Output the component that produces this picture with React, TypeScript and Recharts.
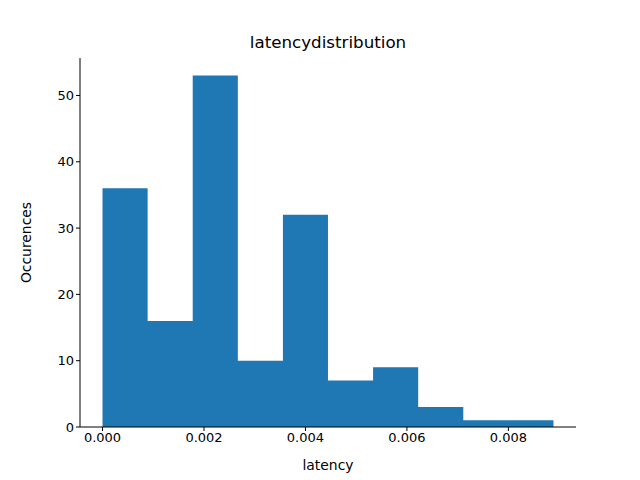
import React from "react";
import { ComposedChart, Area, XAxis, YAxis, Label } from "recharts";

const binEdges = [0, 0.000889, 0.001778, 0.002667, 0.003556, 0.004444, 0.005333, 0.006222, 0.007111, 0.008, 0.008889];
const counts = [36, 16, 53, 10, 32, 7, 9, 3, 1, 1];
const xTicks = [0, 0.002, 0.004, 0.006, 0.008];
const yTicks = [0, 10, 20, 30, 40, 50];

const data = binEdges.map((e, i) => ({ x: e, y: counts[Math.min(i, counts.length - 1)] }));

const font = "DejaVu Sans, sans-serif";
const tickStyle = { fontSize: 13, fill: "#000", fontFamily: font };

export default function App() {
  return (
    <div style={{ position: "absolute", left: 0, top: 0, width: 640, height: 480, background: "#fff" }}>
      <div style={{ position: "absolute", top: 32, left: 0, width: 656, textAlign: "center", fontFamily: font, fontSize: 16.7 }}>
        latencydistribution
      </div>
      <ComposedChart width={640} height={480} data={data} margin={{ top: 58, right: 64, bottom: 0, left: 0 }}>
        <XAxis xAxisId="b" dataKey="x" type="number" domain={[-0.000444, 0.009333]} ticks={xTicks}
          tickFormatter={(v: number) => v.toFixed(3)} tick={tickStyle} stroke="#000" tickSize={4} height={53} allowDataOverflow>
          <Label value="latency" position="insideBottom" offset={10} style={{ fontSize: 13.9, fill: "#000", fontFamily: font }} />
        </XAxis>
        <XAxis xAxisId="t" orientation="top" dataKey="x" type="number" domain={[-0.000444, 0.009333]} tick={false} tickLine={false} stroke="#000" height={0} allowDataOverflow />
        <YAxis yAxisId="l" domain={[0, 55.65]} ticks={yTicks} tick={tickStyle} stroke="#000" tickSize={4} width={80} allowDataOverflow>
          <Label value="Occurences" angle={-90} position="insideLeft" offset={26} style={{ fontSize: 13.9, fill: "#000", fontFamily: font, textAnchor: "middle" }} />
        </YAxis>
        <YAxis yAxisId="r" orientation="right" domain={[0, 55.65]} tick={false} tickLine={false} stroke="#000" width={0} />
        <Area xAxisId="b" yAxisId="l" type="stepAfter" dataKey="y" fill="#1f77b4" fillOpacity={1} stroke="none" isAnimationActive={false} />
      </ComposedChart>
    </div>
  );
}
